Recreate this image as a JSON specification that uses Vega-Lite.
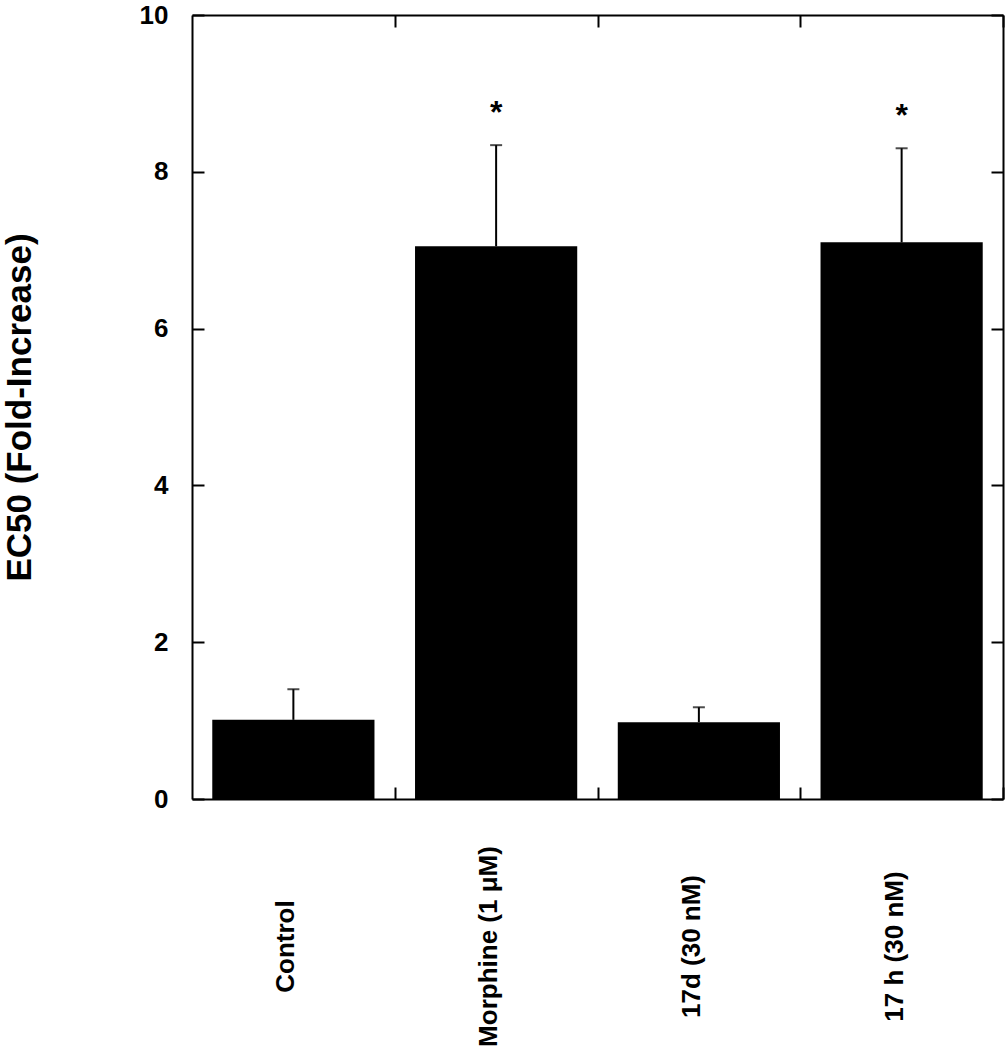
{
  "$schema": "https://vega.github.io/schema/vega-lite/v6.json",
  "width": 811,
  "height": 784,
  "autosize": "none",
  "padding": {"left": 192, "top": 15, "right": 2, "bottom": 251},
  "background": "white",
  "config": {
    "view": {"stroke": null},
    "font": "Liberation Sans",
    "axis": {
      "domainColor": "black",
      "domainWidth": 2,
      "tickColor": "black",
      "tickWidth": 2,
      "labelFont": "Liberation Sans",
      "labelFontWeight": "bold",
      "labelColor": "black",
      "labelLimit": 0,
      "titleFont": "Liberation Sans",
      "titleColor": "black",
      "grid": false
    }
  },
  "data": {
    "values": [
      {"group": "Control", "value": 1.01, "upper": 1.40, "sig": ""},
      {"group": "Morphine (1 μM)", "value": 7.05, "upper": 8.34, "sig": "*"},
      {"group": "17d (30 nM)", "value": 0.98, "upper": 1.17, "sig": ""},
      {"group": "17 h (30 nM)", "value": 7.10, "upper": 8.30, "sig": "*"}
    ]
  },
  "layer": [
    {
      "mark": {"type": "bar", "color": "black"},
      "encoding": {
        "x": {
          "field": "group", "type": "nominal", "sort": null,
          "scale": {"paddingInner": 0.2, "paddingOuter": 0.1},
          "axis": {
            "orient": "bottom", "title": null, "tickSize": -12, "tickOffset": 101.4,
            "labelAngle": -90, "labelAlign": "center", "labelBaseline": "middle",
            "labelPadding": 159, "labelFontSize": 26, "labelOffset": -109
          }
        },
        "y": {
          "field": "value", "type": "quantitative",
          "scale": {"domain": [0, 10], "nice": false},
          "axis": {
            "orient": "left", "title": "EC50 (Fold-Increase)", "values": [0, 2, 4, 6, 8, 10],
            "tickSize": -12, "labelPadding": 36, "labelFontSize": 26,
            "titleFontSize": 35, "titleFontWeight": "bold", "titlePadding": 102
          }
        }
      }
    },
    {
      "mark": {"type": "rule", "color": "black", "strokeWidth": 2},
      "encoding": {
        "x": {"field": "group", "type": "nominal", "sort": null, "axis": null},
        "y": {"field": "value", "type": "quantitative", "axis": null},
        "y2": {"field": "upper"}
      }
    },
    {
      "mark": {"type": "tick", "color": "black", "size": 12, "thickness": 2, "orient": "horizontal"},
      "encoding": {
        "x": {"field": "group", "type": "nominal", "sort": null, "axis": null},
        "y": {"field": "upper", "type": "quantitative", "axis": null}
      }
    },
    {
      "mark": {"type": "text", "color": "black", "fontSize": 32, "fontWeight": "bold", "baseline": "alphabetic", "dy": -22},
      "encoding": {
        "x": {"field": "group", "type": "nominal", "sort": null, "axis": null},
        "y": {"field": "upper", "type": "quantitative", "axis": null},
        "text": {"field": "sig"}
      }
    },
    {
      "mark": {"type": "bar", "opacity": 0},
      "encoding": {
        "x": {
          "field": "group", "type": "nominal", "sort": null,
          "axis": {"orient": "top", "title": null, "labels": false, "tickSize": -12, "tickOffset": 101.4}
        },
        "y": {
          "field": "value", "type": "quantitative",
          "axis": {"orient": "right", "title": null, "labels": false, "values": [0, 2, 4, 6, 8, 10], "tickSize": -12}
        }
      }
    }
  ],
  "resolve": {"axis": {"x": "independent", "y": "independent"}}
}
